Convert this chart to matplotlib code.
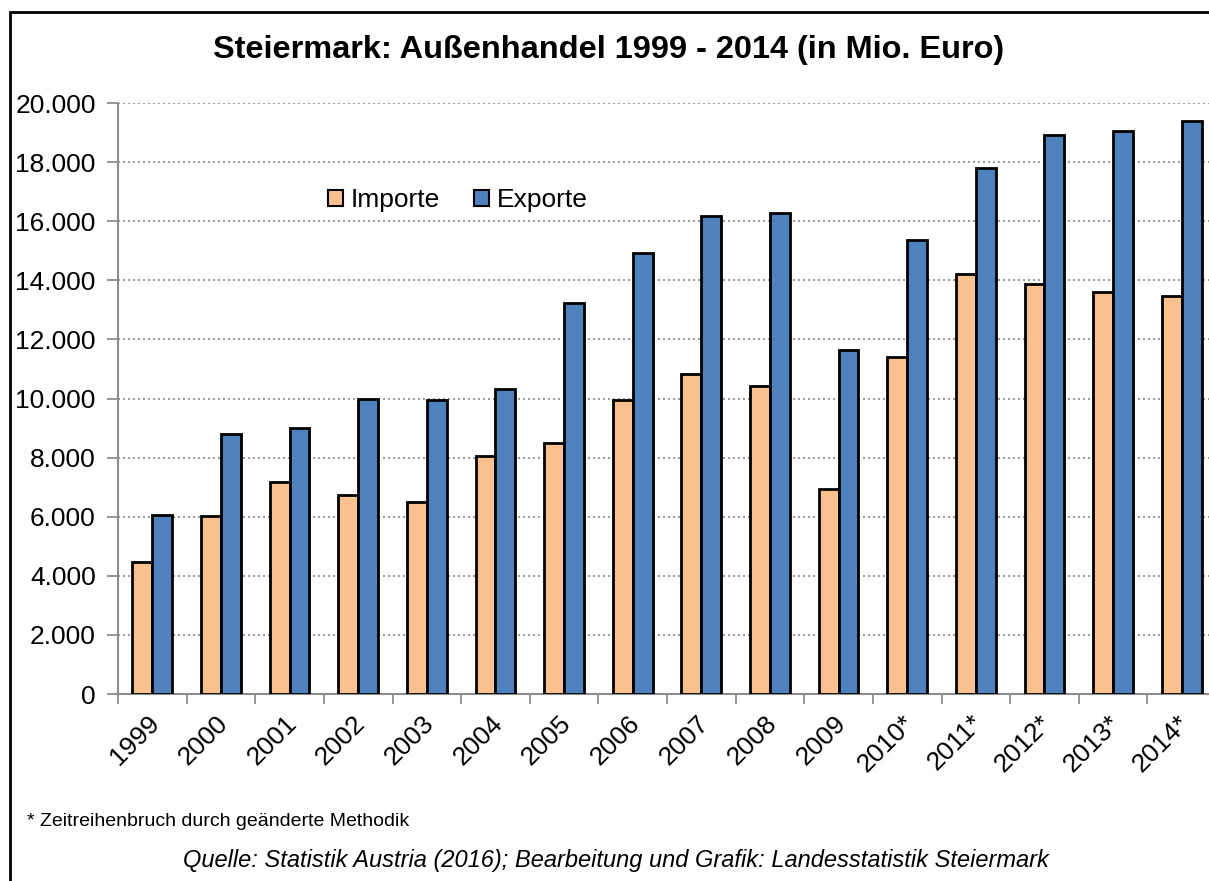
import numpy as np
import matplotlib.pyplot as plt
from matplotlib.patches import Rectangle, Patch
from matplotlib.transforms import ScaledTranslation

plt.rcParams['font.family'] = ['Liberation Sans', 'DejaVu Sans']

years = ['1999', '2000', '2001', '2002', '2003', '2004', '2005', '2006',
         '2007', '2008', '2009', '2010*', '2011*', '2012*', '2013*', '2014*']
importe = [4470, 6010, 7160, 6730, 6490, 8060, 8490, 9960,
           10840, 10420, 6950, 11400, 14200, 13880, 13610, 13480]
exporte = [6050, 8800, 9000, 10000, 9960, 10310, 13230, 14930,
           16190, 16290, 11650, 15360, 17790, 18930, 19060, 19400]

col_imp = '#F9C18F'
col_exp = '#4F81BD'

W, H = 1209, 881
fig = plt.figure(figsize=(W / 100, H / 100), dpi=100)

# axes box in pixel coords (plot area runs slightly past the right edge)
left, right, top, bottom = 118, 1216, 103, 694
ax = fig.add_axes([left / W, 1 - bottom / H, (right - left) / W, (bottom - top) / H])

x = np.arange(len(years))
bw = 0.29
ax.bar(x - bw / 2, importe, bw, color=col_imp, edgecolor='black', linewidth=2, zorder=3)
ax.bar(x + bw / 2, exporte, bw, color=col_exp, edgecolor='black', linewidth=2, zorder=3)

ax.set_xlim(-0.5, len(years) - 0.5)
ax.set_ylim(0, 20000)
yt = np.arange(0, 20001, 2000)
ax.set_yticks(yt)
ax.set_yticklabels(['{:,}'.format(v).replace(',', '.') for v in yt], fontsize=19)
ax.yaxis.grid(True, linestyle=(0, (1.2, 1.8)), color='#8c8c8c', linewidth=1.2, zorder=0)

ax.set_xticks(x)
ax.set_xticklabels(years, rotation=45, ha='right', va='top', rotation_mode='anchor', fontsize=19)
ax.tick_params(axis='x', which='major', length=0, pad=12)
for lbl in ax.get_xticklabels():
    lbl.set_transform(lbl.get_transform() + ScaledTranslation(-0.05, 0, fig.dpi_scale_trans))
ax.set_xticks(np.arange(-0.5, len(years), 1), minor=True)
ax.tick_params(axis='x', which='minor', length=7, color='#8c8c8c', width=1.3)
ax.tick_params(axis='y', length=8, color='#8c8c8c', width=1.3, pad=8)

for s in ['top', 'right']:
    ax.spines[s].set_visible(False)
for s in ['left', 'bottom']:
    ax.spines[s].set_color('#8c8c8c')
    ax.spines[s].set_linewidth(1.5)

handles = [Patch(facecolor=col_imp, edgecolor='black', linewidth=1.5, label='Importe'),
           Patch(facecolor=col_exp, edgecolor='black', linewidth=1.5, label='Exporte')]
fig.legend(handles=handles, loc='center left', bbox_to_anchor=(328 / W, 1 - 200 / H),
           ncol=2, frameon=False, fontsize=19, handlelength=0.55, handleheight=0.55,
           handletextpad=0.3, columnspacing=1.3, borderpad=0, borderaxespad=0)

fig.text(609 / W, 1 - 50 / H, 'Steiermark: Außenhandel 1999 - 2014 (in Mio. Euro)',
         ha='center', va='center', fontsize=23.4, fontweight='bold')
fig.text(27 / W, 1 - 822 / H, '* Zeitreihenbruch durch geänderte Methodik',
         ha='left', va='center', fontsize=14)
fig.text(616 / W, 1 - 860 / H,
         'Quelle: Statistik Austria (2016); Bearbeitung und Grafik: Landesstatistik Steiermark',
         ha='center', va='center', fontsize=17, style='italic')

# outer chart frame (cut off on the right and bottom)
fig.patches.append(Rectangle((10 / W, -0.1), 1.2, 1 - 12 / H + 0.1, transform=fig.transFigure,
                             fill=False, edgecolor='black', linewidth=2))

fig.savefig('out.png', dpi=100)
